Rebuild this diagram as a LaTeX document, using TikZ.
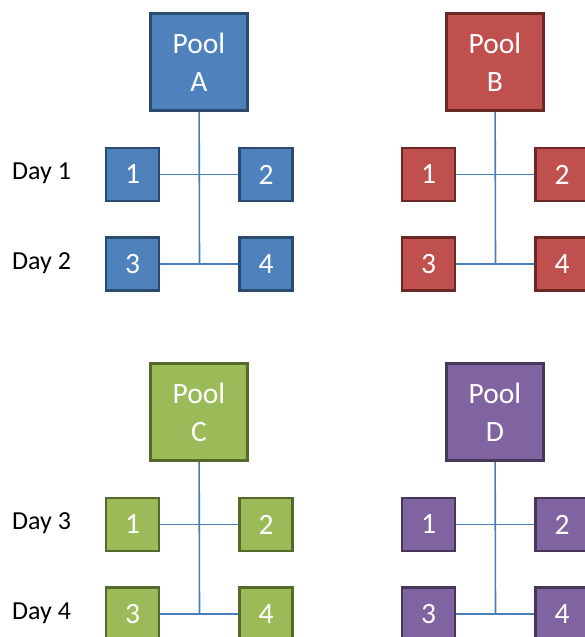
\documentclass[tikz,border=0pt]{standalone}
\usepackage{fontspec}
\setmainfont{Carlito}
\usetikzlibrary{backgrounds}
\definecolor{blueF}{HTML}{4F81BD}
\definecolor{blueD}{HTML}{2B4A70}
\definecolor{redF}{HTML}{C0504D}
\definecolor{redD}{HTML}{6B2826}
\definecolor{greenF}{HTML}{9BBB59}
\definecolor{greenD}{HTML}{55692C}
\definecolor{purpleF}{HTML}{8064A2}
\definecolor{purpleD}{HTML}{45365A}
\definecolor{linkblue}{HTML}{4A7EBB}
\begin{document}
\begin{tikzpicture}[x=1pt,y=-1pt,
  poolbox/.style={draw, line width=3pt, minimum size=97pt, inner sep=0pt, text=white,
    font=\fontsize{29.5}{38}\selectfont, align=center},
  itembox/.style={draw, line width=2.5pt, minimum size=53pt, inner sep=0pt, text=white,
    font=\fontsize{29.5}{34}\selectfont},
  link/.style={draw=linkblue, line width=1.6pt},
  daylabel/.style={anchor=base west, inner sep=0pt, font=\fontsize{26}{30}\selectfont}]
\useasboundingbox (0,0) rectangle (585,637);
\clip (0,0) rectangle (585,637);
\foreach \n/\dx/\dy/\fc/\bc in {A/0/0/blueF/blueD, B/296/0/redF/redD, C/0/350/greenF/greenD, D/296/350/purpleF/purpleD}{
  \node[poolbox, fill=\fc, draw=\bc] (p\n) at (199+\dx, 62+\dy) {Pool\\\n};
  \node[itembox, fill=\fc, draw=\bc] (\n1) at (132.5+\dx, 174.5+\dy) {1};
  \node[itembox, fill=\fc, draw=\bc] (\n2) at (266+\dx, 174.5+\dy) {2};
  \node[itembox, fill=\fc, draw=\bc] (\n3) at (132.5+\dx, 264+\dy) {3};
  \node[itembox, fill=\fc, draw=\bc] (\n4) at (266+\dx, 264+\dy) {4};
  \coordinate (\n c) at (199.5+\dx, 264+\dy);
  \begin{scope}[on background layer]
    \draw[link] (p\n) -- (\n c);
    \draw[link] (\n1) -- (\n2);
    \draw[link] (\n3) -- (\n4);
  \end{scope}
}
\node[daylabel] (d1) at (12,179) {Day 1};
\node[daylabel] (d2) at (12,269) {Day 2};
\node[daylabel] (d3) at (12,529) {Day 3};
\node[daylabel] (d4) at (12,619) {Day 4};
\end{tikzpicture}
\end{document}
